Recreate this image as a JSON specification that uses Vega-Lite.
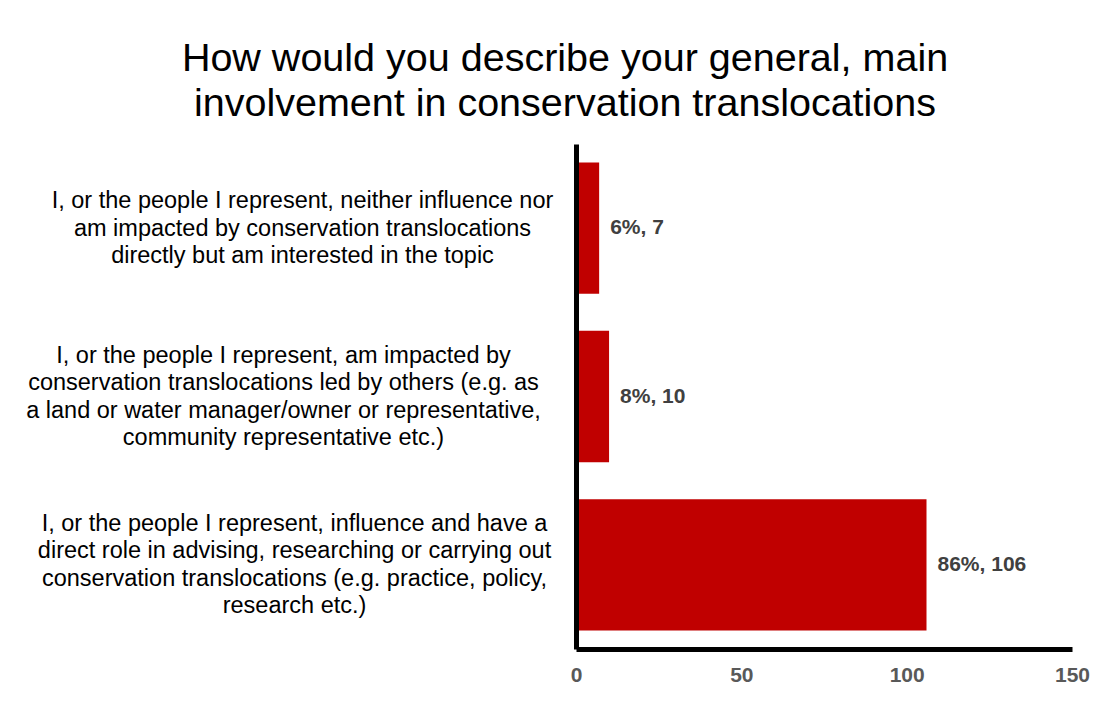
{
  "$schema": "https://vega.github.io/schema/vega-lite/v6.json",
  "width": 496,
  "height": 505,
  "autosize": {"type": "none"},
  "padding": {"left": 576, "top": 144, "right": 36, "bottom": 57},
  "background": "white",
  "config": {
    "view": {"stroke": null},
    "font": "Liberation Sans"
  },
  "title": {
    "text": ["How would you describe your general, main", "involvement in conservation translocations"],
    "fontSize": 39.5,
    "fontWeight": "normal",
    "color": "black",
    "lineHeight": 45,
    "anchor": "middle",
    "dx": -259,
    "dy": 41,
    "baseline": "bottom",
    "offset": 22
  },
  "data": {
    "values": [
      {"key": "A", "category": "I, or the people I represent, neither influence nor am impacted by conservation translocations directly but am interested in the topic", "count": 7, "pct": "6%"},
      {"key": "B", "category": "I, or the people I represent, am impacted by conservation translocations led by others (e.g. as a land or water manager/owner or representative, community representative etc.)", "count": 10, "pct": "8%"},
      {"key": "C", "category": "I, or the people I represent, influence and have a direct role in advising, researching or carrying out conservation translocations (e.g. practice, policy, research etc.)", "count": 106, "pct": "86%"}
    ]
  },
  "encoding": {
    "y": {
      "field": "key",
      "type": "nominal",
      "sort": null,
      "scale": {"paddingInner": 0.22, "paddingOuter": 0.11},
      "axis": {
        "title": null,
        "ticks": false,
        "domainColor": "black",
        "domainWidth": 5,
        "zindex": 1,
        "labelAlign": "center",
        "labelBaseline": "middle",
        "labelFontSize": 23.5,
        "labelColor": "black",
        "labelLineHeight": 27.5,
        "labelLimit": 0,
        "labelOffset": {"condition": {"test": "datum.value == 'A'", "value": -27}, "value": -41},
        "labelPadding": {"condition": [{"test": "datum.value == 'A'", "value": 274}, {"test": "datum.value == 'B'", "value": 293}], "value": 282},
        "labelExpr": "datum.value == 'A' ? ['I, or the people I represent, neither influence nor', 'am impacted by conservation translocations', 'directly but am interested in the topic'] : datum.value == 'B' ? ['I, or the people I represent, am impacted by', 'conservation translocations led by others (e.g. as', 'a land or water manager/owner or representative,', 'community representative etc.)'] : ['I, or the people I represent, influence and have a', 'direct role in advising, researching or carrying out', 'conservation translocations (e.g. practice, policy,', 'research etc.)']"
      }
    }
  },
  "layer": [
    {
      "mark": {"type": "bar", "color": "#C00000"},
      "encoding": {
        "x": {
          "field": "count",
          "type": "quantitative",
          "scale": {"domain": [0, 150], "nice": false},
          "axis": {
            "title": null,
            "values": [0, 50, 100, 150],
            "grid": false,
            "ticks": false,
            "domainColor": "black",
            "domainWidth": 5,
            "zindex": 1,
            "labelFontSize": 21,
            "labelFontWeight": "bold",
            "labelColor": "#595959",
            "labelPadding": 15,
            "labelFlush": false
          }
        }
      }
    },
    {
      "transform": [{"calculate": "datum.pct + ', ' + datum.count", "as": "lbl"}],
      "mark": {"type": "text", "align": "left", "baseline": "middle", "dx": 11, "fontSize": 21, "fontWeight": "bold", "color": "#404040"},
      "encoding": {
        "x": {"field": "count", "type": "quantitative"},
        "text": {"field": "lbl"}
      }
    }
  ]
}
